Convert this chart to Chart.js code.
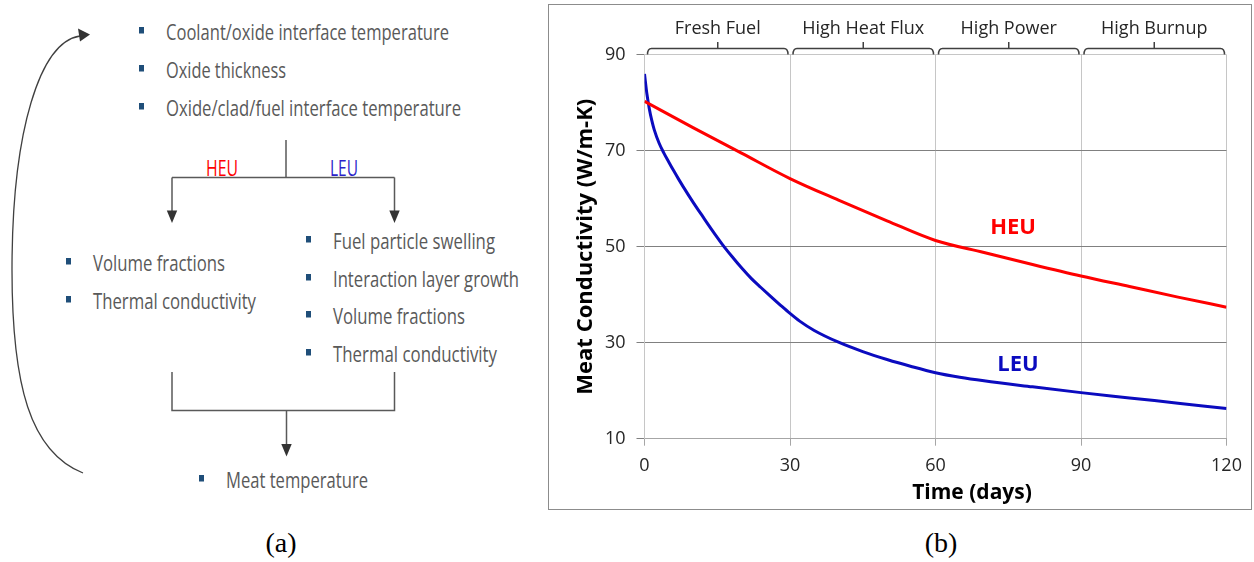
<!DOCTYPE html>
<html>
<head>
<meta charset="utf-8">
<script src="https://cdn.jsdelivr.net/npm/chart.js@4"></script>
<style>
  html, body { margin: 0; padding: 0; background: #fff; }
  #page { position: relative; width: 1254px; height: 562px; overflow: hidden; }
  #flow { position: absolute; left: 0; top: 0; }
  #conductivityChart { position: absolute; left: 548px; top: 4px; }
  #frame { position: absolute; left: 548px; top: 4px; width: 704px; height: 506px; border: 1.5px solid #8c8c8c; box-sizing: border-box; pointer-events: none; }
  .item { font-family: 'Open Sans', sans-serif; font-size: 21px; fill: #595959; }
  .bul { fill: #1f4e79; }
  .ln { stroke: #595959; stroke-width: 1.5; fill: none; }
  .cap { font-family: 'Liberation Serif', serif; font-size: 28px; fill: #000; }
</style>
</head>
<body>
<div id="page">
  <svg id="flow" width="1254" height="562" viewBox="0 0 1254 562">
    <!-- feedback loop -->
    <path d="M 83 473 C 30 452, 12 385, 12 270 C 12 130, 40 42, 80 36" stroke="#404040" stroke-width="1.3" fill="none"/>
    <polygon points="90,34.5 78,28.5 80,41.5" fill="#333"/>

    <rect class="bul" x="139" y="27" width="5" height="6.5"/>
    <text class="item" x="166" y="40" textLength="283" lengthAdjust="spacingAndGlyphs">Coolant/oxide interface temperature</text>
    <rect class="bul" x="139" y="65" width="5" height="6.5"/>
    <text class="item" x="166" y="78" textLength="120" lengthAdjust="spacingAndGlyphs">Oxide thickness</text>
    <rect class="bul" x="139" y="103" width="5" height="6.5"/>
    <text class="item" x="166" y="116" textLength="295" lengthAdjust="spacingAndGlyphs">Oxide/clad/fuel interface temperature</text>

    <!-- split -->
    <path class="ln" d="M 286 140 V 177.5 M 172 177.5 H 394.5 M 172 177.5 V 212 M 394.5 177.5 V 212"/>
    <polygon points="172,223 166.8,210.5 177.2,210.5" fill="#333"/>
    <polygon points="394.5,223 389.3,210.5 399.7,210.5" fill="#333"/>
    <text x="206" y="176" font-family="'Open Sans', sans-serif" font-size="22" fill="#ff0000" textLength="32" lengthAdjust="spacingAndGlyphs">HEU</text>
    <text x="330" y="176" font-family="'Open Sans', sans-serif" font-size="22" fill="#2b1fc9" textLength="28" lengthAdjust="spacingAndGlyphs">LEU</text>

    <rect class="bul" x="66" y="258" width="5" height="6.5"/>
    <text class="item" x="93" y="271" textLength="132" lengthAdjust="spacingAndGlyphs">Volume fractions</text>
    <rect class="bul" x="66" y="296" width="5" height="6.5"/>
    <text class="item" x="93" y="308.5" textLength="163" lengthAdjust="spacingAndGlyphs">Thermal conductivity</text>

    <rect class="bul" x="306" y="236" width="5" height="6.5"/>
    <text class="item" x="333" y="249" textLength="162" lengthAdjust="spacingAndGlyphs">Fuel particle swelling</text>
    <rect class="bul" x="306" y="274" width="5" height="6.5"/>
    <text class="item" x="333" y="287" textLength="186" lengthAdjust="spacingAndGlyphs">Interaction layer growth</text>
    <rect class="bul" x="306" y="311" width="5" height="6.5"/>
    <text class="item" x="333" y="324" textLength="132" lengthAdjust="spacingAndGlyphs">Volume fractions</text>
    <rect class="bul" x="306" y="349" width="5" height="6.5"/>
    <text class="item" x="333" y="362" textLength="164" lengthAdjust="spacingAndGlyphs">Thermal conductivity</text>

    <!-- merge -->
    <path class="ln" d="M 172 372 V 410.5 H 394.5 V 372 M 286.5 410.5 V 446"/>
    <polygon points="286.5,456.5 281.3,444 291.7,444" fill="#333"/>

    <rect class="bul" x="199" y="475" width="5" height="6.5"/>
    <text class="item" x="226" y="488" textLength="142" lengthAdjust="spacingAndGlyphs">Meat temperature</text>

    <text class="cap" x="281" y="552" text-anchor="middle">(a)</text>
    <text class="cap" x="941" y="552" text-anchor="middle">(b)</text>
  </svg>
  <canvas id="conductivityChart" width="704" height="506" style="width:704px;height:506px"></canvas>
  <div id="frame"></div>
</div>
<script>
// LEU meat conductivity (W/m-K) vs time (days)
const leuDays = [0, 0.5, 1, 1.5, 2, 3, 4, 5, 6, 7, 8, 10, 12, 14, 16, 18, 20, 22, 24, 26, 28, 30, 32, 35, 40, 45, 50, 55, 60, 65, 70, 80, 90, 100, 110, 120];
const leuValues = [86.0, 81.8, 78.7, 76.3, 74.4, 71.6, 69.5, 67.65, 65.85, 64.13, 62.47, 59.3, 56.3, 53.35, 50.55, 48.0, 45.6, 43.4, 41.5, 39.65, 37.85, 36.1, 34.5, 32.55, 30.1, 28.15, 26.5, 25.05, 23.75, 22.8, 22.05, 20.8, 19.6, 18.5, 17.4, 16.3];

// HEU meat conductivity
const heuDays = [0, 10, 20, 30, 40, 50, 60, 70, 80, 90, 100, 110, 120];
const heuValues = [80.3, 74.8, 69.5, 64.2, 59.7, 55.4, 51.3, 48.8, 46.3, 43.9, 41.7, 39.5, 37.4];

const xTicks = [0, 30, 60, 90, 120];
const yTicks = [10, 30, 50, 70, 90];

// irradiation phases along the top
const phaseNames = ['Fresh Fuel', 'High Heat Flux', 'High Power', 'High Burnup'];
const phaseEdges = [0, 30, 60, 90, 120];

const heuColor = '#ff0000';
const leuColor = '#0b0bbf';
const tickFont = { family: "'Open Sans', sans-serif", size: 18 };

// in-chart series labels, anchored in data units
const curveLabels = [
    { text: 'HEU', day: 76, value: 53.9, color: heuColor },
    { text: 'LEU', day: 77, value: 25.4, color: leuColor }
];

const phasePlugin = {
    id: 'phases',
    afterDraw(chart) {
        const ctx = chart.ctx;
        const xs = chart.scales.x;
        const ys = chart.scales.y;
        ctx.save();
        ctx.strokeStyle = '#404040';
        ctx.lineWidth = 1.5;
        ctx.fillStyle = '#262626';
        ctx.font = "18px 'Open Sans', sans-serif";
        ctx.textAlign = 'center';
        ctx.textBaseline = 'middle';
        const y = 44.5;
        phaseNames.forEach((name, i) => {
            const a = xs.getPixelForValue(phaseEdges[i]) + 3;
            const b = xs.getPixelForValue(phaseEdges[i + 1]) - 2;
            const m = (a + b) / 2;
            ctx.beginPath();
            ctx.moveTo(a, y + 6);
            ctx.quadraticCurveTo(a, y, a + 4, y);
            ctx.lineTo(b - 4, y);
            ctx.quadraticCurveTo(b, y, b, y + 6);
            ctx.moveTo(m, y);
            ctx.lineTo(m, y - 6.5);
            ctx.stroke();
            ctx.fillText(name, m, 25);
        });

        ctx.font = "bold 22px 'Open Sans', sans-serif";
        curveLabels.forEach(l => {
            ctx.fillStyle = l.color;
            ctx.fillText(l.text, xs.getPixelForValue(l.day), ys.getPixelForValue(l.value));
        });

        // x axis title sits right of centre in the original
        ctx.fillStyle = '#000';
        ctx.font = "bold 21px 'Open Sans', sans-serif";
        ctx.fillText('Time (days)', 424, 489);
        ctx.restore();
    }
};

const ctx = document.getElementById('conductivityChart').getContext('2d');
new Chart(ctx, {
    type: 'line',
    data: {
        datasets: [{
            label: 'HEU',
            data: heuDays.map((d, i) => ({ x: d, y: heuValues[i] })),
            borderColor: heuColor,
            borderWidth: 3,
            pointRadius: 0,
            cubicInterpolationMode: 'monotone'
        }, {
            label: 'LEU',
            data: leuDays.map((d, i) => ({ x: d, y: leuValues[i] })),
            borderColor: leuColor,
            borderWidth: 3,
            pointRadius: 0,
            cubicInterpolationMode: 'monotone'
        }]
    },
    options: {
        responsive: false,
        animation: false,
        layout: {
            padding: { left: 0, right: 25.5, top: 50.7, bottom: 0 }
        },
        plugins: {
            legend: { display: false },
            tooltip: { enabled: false }
        },
        scales: {
            x: {
                type: 'linear',
                min: 0,
                max: 120,
                afterBuildTicks: scale => { scale.ticks = xTicks.map(v => ({ value: v })); },
                afterFit: scale => { scale.height = 71.3; },
                ticks: { font: tickFont, color: '#262626', padding: 9 },
                grid: { color: '#c6c6c6', tickColor: '#a6a6a6', tickLength: 7 },
                border: { color: '#a6a6a6' },
                title: { display: false }
            },
            y: {
                min: 10,
                max: 90,
                afterBuildTicks: scale => { scale.ticks = yTicks.map(v => ({ value: v })); },
                afterFit: scale => { scale.width = 96.5; },
                ticks: { font: tickFont, color: '#262626', padding: 11 },
                grid: {
                    color: c => (c.tick && (c.tick.value === 90)) ? '#c6c6c6' : (c.tick && c.tick.value === 10 ? '#a6a6a6' : '#808080'),
                    tickColor: '#808080',
                    tickLength: 8
                },
                border: { color: '#c6c6c6' },
                title: {
                    display: true,
                    text: 'Meat Conductivity (W/m-K)',
                    color: '#000',
                    font: { family: "'Open Sans', sans-serif", size: 22, weight: 'bold' },
                    padding: { top: 25, bottom: 0 }
                }
            }
        }
    },
    plugins: [phasePlugin]
});
</script>
</body>
</html>
